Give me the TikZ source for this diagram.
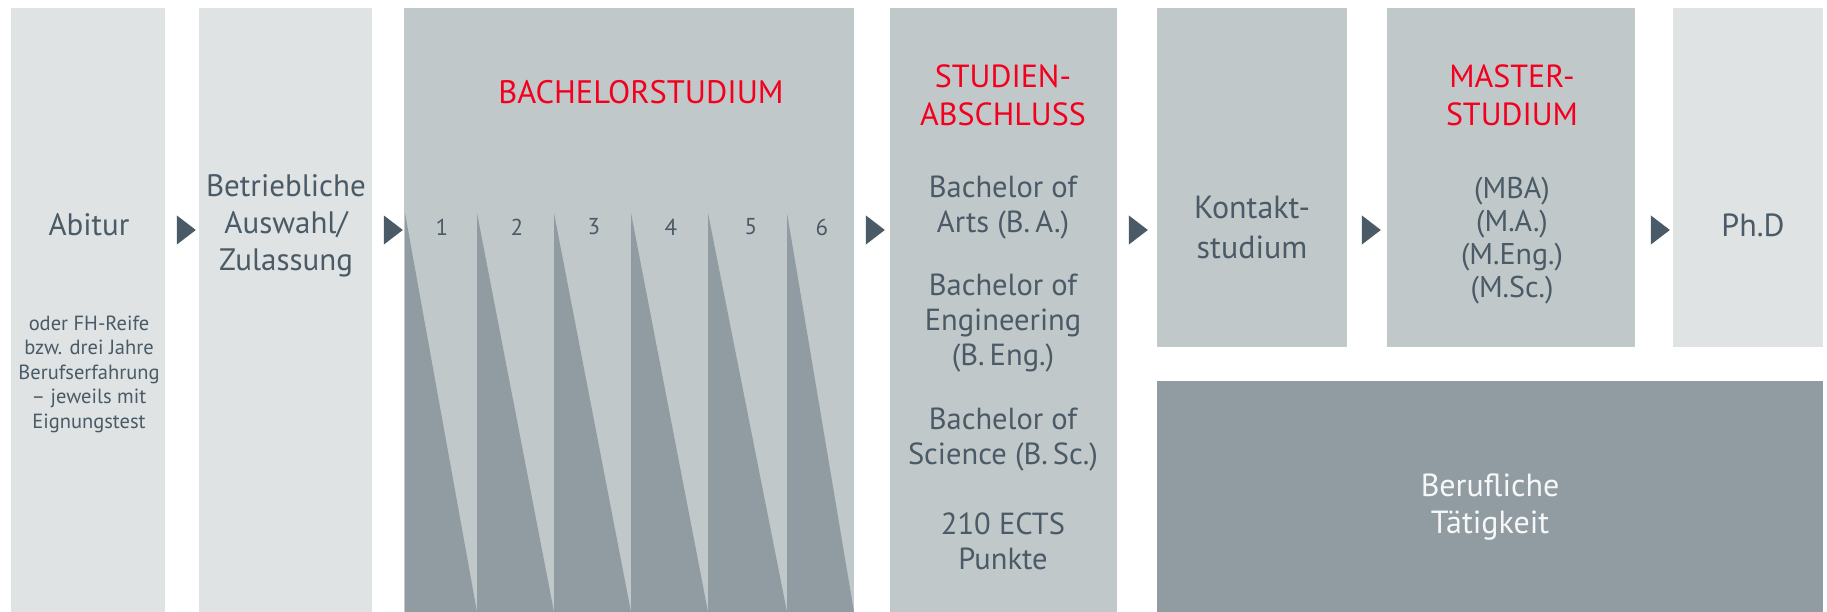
\documentclass[tikz,border=0pt]{standalone}
\usepackage{fontspec}
\setmainfont{PT Sans}
\usetikzlibrary{shapes.geometric}
\definecolor{boxlight}{HTML}{DFE3E4}
\definecolor{boxmid}{HTML}{C1C8CA}
\definecolor{boxdark}{HTML}{909CA2}
\definecolor{txt}{HTML}{4A5A66}
\definecolor{redtitle}{HTML}{F2001E}
\definecolor{whitetxt}{HTML}{F7F7F7}
\begin{document}
\begin{tikzpicture}[x=1pt,y=-1pt,
  box/.style={anchor=north west, inner sep=0pt, outer sep=0pt, draw=none},
  lightbox/.style={box, fill=boxlight},
  midbox/.style={box, fill=boxmid},
  darkbox/.style={box, fill=boxdark},
  bigtxt/.style={text=txt, align=center, inner sep=0pt, font=\fontsize{31}{37}\selectfont},
  midtxt/.style={text=txt, align=center, inner sep=0pt, font=\fontsize{30.5}{35}\selectfont},
  smalltxt/.style={text=txt, align=center, inner sep=0pt, font=\fontsize{20.5}{24.5}\selectfont},
  numtxt/.style={text=txt, inner sep=0pt, font=\fontsize{23}{27}\selectfont},
  redtxt/.style={text=redtitle, align=center, inner sep=0pt, font=\fontsize{32}{38}\selectfont},
  arrowhead/.style={isosceles triangle, isosceles triangle apex angle=75, fill=txt, inner sep=0pt,
     minimum height=19pt, minimum width=19pt, anchor=center}
]
\useasboundingbox (0,0) rectangle (1827,612);
\fill[white] (0,0) rectangle (1827,612);

% boxes
\node[lightbox, minimum width=154pt, minimum height=604pt] (abitur) at (11,8) {};
\node[lightbox, minimum width=173pt, minimum height=604pt] (auswahl) at (199,8) {};
\node[midbox, minimum width=450pt, minimum height=604pt] (bachelor) at (404,8) {};
\node[midbox, minimum width=227pt, minimum height=604pt] (abschluss) at (890,8) {};
\node[midbox, minimum width=190pt, minimum height=339pt] (kontakt) at (1157,8) {};
\node[midbox, minimum width=248pt, minimum height=339pt] (master) at (1387,8) {};
\node[lightbox, minimum width=150pt, minimum height=339pt] (phd) at (1673,8) {};
\node[darkbox, minimum width=666pt, minimum height=231pt] (beruf) at (1157,381) {};

% semester teeth
\foreach \a/\b in {405/477, 477/554, 554/631, 631/708, 708/787, 787/854}
  \fill[boxdark] (\a,213) -- (\b,612) -- (\a,612) -- cycle;

% arrows
\node[arrowhead] (arr1) at (184,230) {};
\node[arrowhead] (arr2) at (391,230) {};
\node[arrowhead] (arr3) at (873,230) {};
\node[arrowhead] (arr4) at (1136,230) {};
\node[arrowhead] (arr5) at (1369,230) {};
\node[arrowhead] (arr6) at (1658,230) {};

% texts
\node[bigtxt] (tabitur) at (89,225) {Abitur};
\node[smalltxt] (tabitur2) at (89,374) {oder FH-Reife\\bzw. drei Jahre\\Berufserfahrung\\– jeweils mit\\Eignungstest};
\node[bigtxt] (tauswahl) at (286,226) {Betriebliche\\Auswahl/\\Zulassung};

\node[redtxt, font=\fontsize{32.5}{38}\selectfont] (tbachelor) at (641,92) {BACHELORSTUDIUM};
\foreach \x/\n in {442/1, 517/2, 594/3, 671/4, 751/5, 822/6}
  \node[numtxt] (sem\n) at (\x,227) {\n};

\node[redtxt] (tabschluss) at (1003,95) {STUDIEN-\\ABSCHLUSS};
\node[midtxt] (tba) at (1003,208) {Bachelor of\\Arts (B.\,A.)};
\node[midtxt] (tbeng) at (1003,323) {Bachelor of\\Engineering\\(B.\,Eng.)};
\node[midtxt] (tbsc) at (1003,440) {Bachelor of\\Science (B.\,Sc.)};
\node[midtxt] (tects) at (1003,541) {210 ECTS\\Punkte};

\node[bigtxt, font=\fontsize{32}{40}\selectfont] (tkontakt) at (1252,227) {Kontakt-\\studium};

\node[redtxt] (tmaster) at (1512,95) {MASTER-\\STUDIUM};
\node[midtxt, font=\fontsize{30}{33}\selectfont] (tmdeg) at (1512,241) {(MBA)\\(M.A.)\\(M.Eng.)\\(M.Sc.)};

\node[bigtxt, font=\fontsize{32}{37}\selectfont] (tphd) at (1753,225) {Ph.D};

\node[bigtxt, text=whitetxt, font=\fontsize{32}{37}\selectfont] (tberuf) at (1490,507) {Berufliche\\Tätigkeit};
\end{tikzpicture}
\end{document}
